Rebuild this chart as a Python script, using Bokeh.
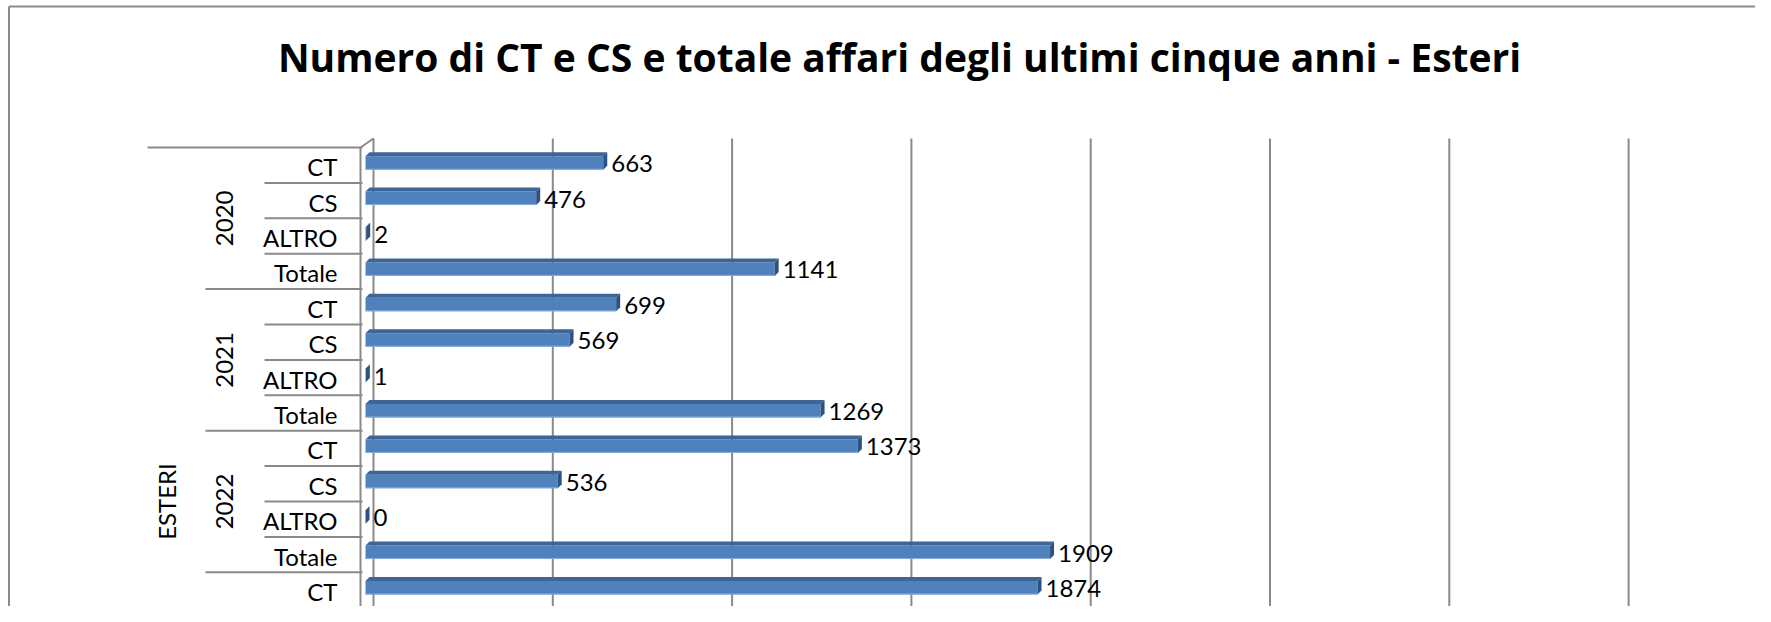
import math
from bokeh.plotting import figure
from bokeh.models import Range1d
from bokeh.core.properties import value
from bokeh.embed import file_html
from bokeh.resources import INLINE

# ---------------- data ----------------
title_text = "Numero di CT e CS e totale affari degli ultimi cinque anni - Esteri"
group_label = "ESTERI"
years = ["2020", "2021", "2022", "2023"]
kinds = ["CT", "CS", "ALTRO", "Totale"]
vals_2020 = [663, 476, 2, 1141]
vals_2021 = [699, 569, 1, 1269]
vals_2022 = [1373, 536, 0, 1909]
vals_2023 = [1874]          # only the first row of 2023 is visible
x_ticks = [0, 500, 1000, 1500, 2000, 2500, 3000, 3500]
rows_per_group = 4
n_groups_total = 5          # ESTERI spans 2020..2024

series = [vals_2020, vals_2021, vals_2022, vals_2023]

# ---------------- layout ----------------
W, H = 1755, 606
K = 0.3586        # px per unit
X0 = 365.0        # canvas x of value 0 (front plane)
ROW = 35.4        # px per category row
Y0 = 147.0        # canvas y of first row boundary

def px2x(c):
    return (c - X0) / K

def px2u(c):
    return (c - Y0) / ROW

def dx(p):
    return p / K

def du(p):
    return p / ROW

FONT = "Lato"
FS = "24px"
GRID = "#8a8a8a"
BLUE = "#4F81BD"
TOP = "#3D6597"
SIDE = "#2E527F"

p = figure(width=W, height=H, output_backend="svg", toolbar_location=None, tools="",
           x_range=Range1d(px2x(0), px2x(W)), y_range=Range1d(px2u(H), px2u(0)),
           x_axis_location=None, y_axis_location=None, min_border=0)
p.xgrid.visible = False
p.ygrid.visible = False
p.outline_line_color = None
p.background_fill_color = "white"
p.border_fill_color = "white"

y_bottom = px2u(H) + 1

# outer border (left and top)
p.segment(x0=[px2x(8.5), px2x(8.5)], y0=[px2u(6), px2u(6)],
          x1=[px2x(8.5), px2x(W + 5)], y1=[y_bottom, px2u(6)],
          line_color="#8c8c8c", line_width=2)

# back-wall gridlines
gx = [v + dx(8) for v in x_ticks]
p.segment(x0=gx, y0=[px2u(138)] * len(gx), x1=gx, y1=[y_bottom] * len(gx),
          line_color=GRID, line_width=2)

# front axis line and 3-D corner
p.segment(x0=[px2x(360), px2x(360)], y0=[px2u(147), px2u(147)],
          x1=[px2x(360), dx(8)], y1=[y_bottom, px2u(138)],
          line_color=GRID, line_width=2)

# rows
rows = []
for gi, (yr, vs) in enumerate(zip(years, series)):
    for ki, v in enumerate(vs):
        rows.append((yr, kinds[ki], v, gi * rows_per_group + ki))

centers = [r[3] + 0.5 for r in rows]
vals = [r[2] for r in rows]

# category separator lines
sx0, sy, sx1 = [], [], []
for b in range(0, len(rows) + 1):
    if b == 0:
        start = 147
    elif b % rows_per_group == 0:
        start = 205
    else:
        start = 264
    sx0.append(px2x(start))
    sx1.append(px2x(362))
    sy.append(b)
p.segment(x0=sx0, y0=sy, x1=sx1, y1=sy, line_color=GRID, line_width=2)

# bars: front face
p.hbar(y=[c - du(2.25) for c in centers], left=0, right=vals, height=du(13.5),
       fill_color=BLUE, line_color=None)
# bottom highlight
p.segment(x0=[0] * len(vals), y0=[c + du(4) for c in centers], x1=vals,
          y1=[c + du(4) for c in centers], line_color="#8FB0DA", line_width=1)
# top face and end cap
top_xs, top_ys, side_xs, side_ys = [], [], [], []
for c, v in zip(centers, vals):
    t = c - du(9)
    b = c + du(4.5)
    top_xs.append([0, v, v + dx(4), dx(4)])
    top_ys.append([t, t, t - du(4), t - du(4)])
    side_xs.append([v, v + dx(4), v + dx(4), v])
    side_ys.append([t, t - du(4), b - du(4), b])
p.patches(xs=top_xs, ys=top_ys, fill_color=TOP, line_color=None)
p.patches(xs=side_xs, ys=side_ys, fill_color=SIDE, line_color=None)

# data labels
p.text(x=[v + dx(8) for v in vals], y=[c - du(1.5) for c in centers],
       text=[str(v) for v in vals], text_font=value(FONT), text_font_size=FS,
       text_align="left", text_baseline="middle", text_color="black")

# category labels
p.text(x=[px2x(337)] * len(rows), y=[c + du(1.5) for c in centers],
       text=[r[1] for r in rows], text_font=value(FONT), text_font_size=FS,
       text_align="right", text_baseline="middle", text_color="black")

# year labels (only those whose centre is on the page)
yl_x, yl_y, yl_t = [], [], []
for gi, yr in enumerate(years):
    cu = gi * rows_per_group + rows_per_group / 2
    if cu < px2u(H) - 1:
        yl_x.append(px2x(224))
        yl_y.append(cu)
        yl_t.append(yr)
p.text(x=yl_x, y=yl_y, text=yl_t, angle=math.pi / 2, text_font=value(FONT),
       text_font_size=FS, text_align="center", text_baseline="middle",
       text_color="black")

# outer group label, centred on all of its rows
p.text(x=[px2x(166)], y=[n_groups_total * rows_per_group / 2], text=[group_label],
       angle=math.pi / 2, text_font=value(FONT), text_font_size=FS,
       text_align="center", text_baseline="middle", text_color="black")

# title
p.text(x=[px2x(899)], y=[px2u(56)], text=[title_text], text_font=value("Open Sans"),
       text_font_size="39px", text_font_style="bold", text_align="center",
       text_baseline="alphabetic", text_color="black")

open("out.html", "w").write(file_html(p, INLINE))
